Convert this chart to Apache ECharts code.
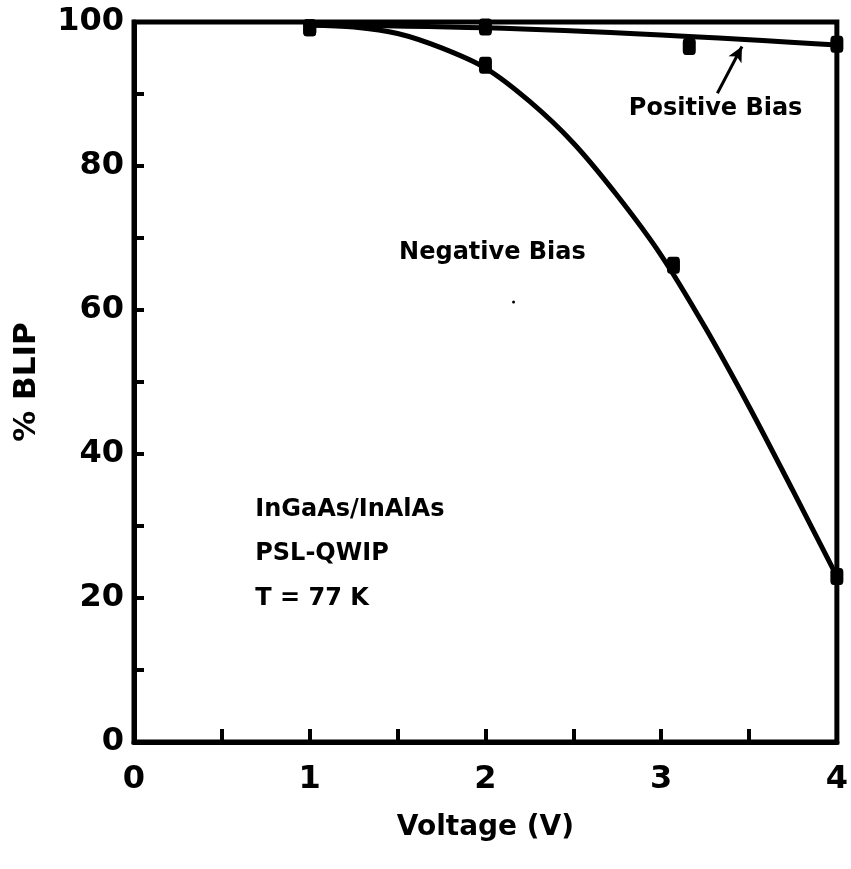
<!DOCTYPE html>
<html>
<head>
<meta charset="utf-8">
<script src="https://cdn.jsdelivr.net/npm/echarts@6/dist/echarts.min.js"></script>
<style>
  html, body { margin: 0; padding: 0; background: #fff; }
  #chart { width: 851px; height: 869px; }
</style>
</head>
<body>
<div id="chart"></div>
<script>
// Measured points (V, % BLIP)
const positiveBiasPoints = [[1, 99.2], [2, 99.3], [3.16, 96.6], [4, 96.9]];
const negativeBiasPoints = [[1, 99.2], [2, 94.0], [3.07, 66.2], [4, 23.0]];

// Smooth guide curves through the measurements
const positiveBiasCurve = [[1, 99.6], [2, 99.2], [3, 98.2], [4, 96.8]];
const negativeBiasCurve = [
  [1, 99.6], [1.25, 99.3], [1.5, 98.4], [1.75, 96.4], [2, 93.6],
  [2.25, 89.0], [2.5, 83.2], [2.75, 75.9], [3, 67.6], [3.25, 57.6],
  [3.5, 46.6], [3.75, 34.9], [4, 23.0]
];

const xTickLabels = ['0', '1', '2', '3', '4'];
const yTickLabels = ['0', '20', '40', '60', '80', '100'];

const boldFont = '"DejaVu Sans", "Liberation Sans", sans-serif';
const chart = echarts.init(document.getElementById('chart'));

const option = {
  animation: false,
  backgroundColor: '#ffffff',
  grid: {
    left: 134, right: 13, top: 22, bottom: 127,
    show: true, borderColor: '#000', borderWidth: 5
  },
  xAxis: {
    type: 'value', min: 0, max: 4, interval: 0.5,
    name: 'Voltage (V)', nameLocation: 'middle', nameGap: 72,
    nameTextStyle: { fontFamily: boldFont, fontWeight: 'bold', fontSize: 28, color: '#000' },
    axisLine: { lineStyle: { color: '#000', width: 5 } },
    axisTick: { inside: true, length: 13, lineStyle: { color: '#000', width: 4 } },
    axisLabel: {
      margin: 22, fontFamily: boldFont, fontWeight: 'bold', fontSize: 32, color: '#000',
      formatter: v => (Number.isInteger(v) ? xTickLabels[v] : '')
    },
    splitLine: { show: false }
  },
  yAxis: {
    type: 'value', min: 0, max: 100, interval: 10,
    name: '% BLIP', nameLocation: 'middle', nameGap: 92, nameRotate: 90,
    nameTextStyle: { fontFamily: boldFont, fontWeight: 'bold', fontSize: 31, color: '#000' },
    axisLine: { lineStyle: { color: '#000', width: 5 } },
    axisTick: { inside: true, length: 10, lineStyle: { color: '#000', width: 4 } },
    axisLabel: {
      margin: 10, fontFamily: boldFont, fontWeight: 'bold', fontSize: 32, color: '#000',
      formatter: v => (v % 20 === 0 ? yTickLabels[v / 20] : '')
    },
    splitLine: { show: false }
  },
  series: [
    {
      name: 'Positive Bias curve', type: 'line', data: positiveBiasCurve,
      smooth: 0.4, showSymbol: false, z: 3,
      lineStyle: { color: '#000', width: 5 },
      markLine: {
        silent: true, symbol: ['none', 'arrow'], symbolSize: [11, 15],
        lineStyle: { color: '#000', width: 3, type: 'solid' },
        label: { show: false },
        data: [[{ coord: [3.32, 90.1] }, { coord: [3.46, 96.6] }]]
      }
    },
    {
      name: 'Negative Bias curve', type: 'line', data: negativeBiasCurve,
      smooth: 0.3, showSymbol: false, z: 3,
      lineStyle: { color: '#000', width: 5 }
    },
    {
      name: 'Positive Bias', type: 'scatter', data: positiveBiasPoints,
      symbol: 'roundRect', symbolSize: [13, 17], z: 4,
      itemStyle: { color: '#000', opacity: 1 }
    },
    {
      name: 'Negative Bias', type: 'scatter', data: negativeBiasPoints,
      symbol: 'roundRect', symbolSize: [13, 17], z: 4,
      itemStyle: { color: '#000', opacity: 1 }
    }
  ]
};
chart.setOption(option);

// Text annotations placed in data coordinates
const annotations = [
  { text: 'Positive Bias', at: [3.31, 88.0], align: 'center' },
  { text: 'Negative Bias', at: [2.04, 67.9], align: 'center' },
  { text: 'InGaAs/InAlAs', at: [0.69, 32.2], align: 'left' },
  { text: 'PSL-QWIP', at: [0.69, 26.2], align: 'left' },
  { text: 'T = 77 K', at: [0.69, 19.9], align: 'left' }
];
const speck = chart.convertToPixel({ gridIndex: 0 }, [2.16, 61.1]);
chart.setOption({
  graphic: annotations.map(a => {
    const p = chart.convertToPixel({ gridIndex: 0 }, a.at);
    return {
      type: 'text', x: p[0], y: p[1], z: 10,
      style: {
        text: a.text, fill: '#000', font: 'bold 24px ' + boldFont,
        align: a.align, verticalAlign: 'middle'
      }
    };
  }).concat([{
    // small stray speck near the negative-bias label
    type: 'circle', shape: { cx: speck[0], cy: speck[1], r: 1.5 },
    style: { fill: '#000' }
  }])
});
</script>
</body>
</html>
